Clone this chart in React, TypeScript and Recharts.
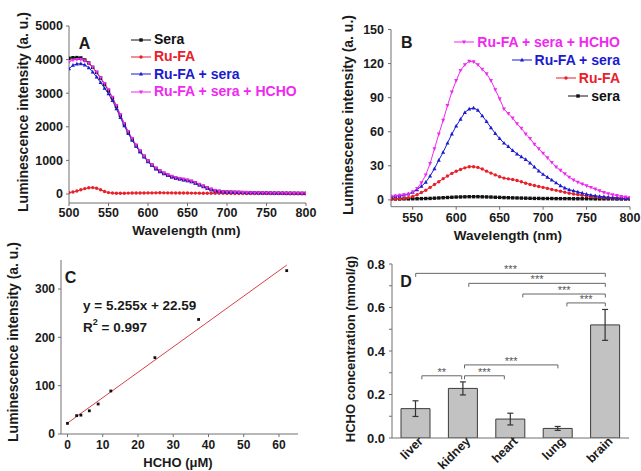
import React from 'react';
import {
  LineChart, Line, XAxis, YAxis, ComposedChart, Scatter, Bar, ErrorBar,
  ReferenceLine, ReferenceDot, Legend,
} from 'recharts';

const FONT = '"Liberation Sans", Arial, Helvetica, sans-serif';
const AXIS = '#707070';
const TXT = '#1a1a1a';
const BLACK = '#111111';
const RED = '#e8202a';
const BLUE = '#1a1ad0';
const MAGENTA = '#f028f0';

// ---------- Panel A ----------
const wavelengthsA = [
  500, 505, 510, 515, 520, 525, 530, 535, 540, 545,
  550, 555, 560, 565, 570, 575, 580, 585, 590, 595,
  600, 605, 610, 615, 620, 625, 630, 635, 640, 645,
  650, 655, 660, 665, 670, 675, 680, 685, 690, 695,
  700, 705, 710, 715, 720, 725, 730, 735, 740, 745,
  750, 755, 760, 765, 770, 775, 780, 785, 790, 795,
  800,
];
const seraA = [
  4040, 4056, 4060, 4050, 3990, 3900, 3770, 3620, 3450, 3270,
  3080, 2860, 2610, 2340, 2080, 1840, 1630, 1440, 1270, 1120,
  980, 860, 760, 680, 615, 560, 515, 480, 455, 430,
  405, 375, 330, 280, 230, 180, 135, 100, 78, 65,
  58, 54, 50, 47, 44, 41, 38, 36, 34, 32,
  30, 28, 26, 25, 24, 23, 22, 21, 20, 19,
  18,
];
const ruFaA = [
  40, 60, 90, 125, 160, 185, 190, 170, 125, 75,
  42, 28, 22, 22, 24, 26, 28, 29, 30, 31,
  32, 33, 34, 35, 34, 33, 32, 31, 30, 29,
  28, 27, 26, 25, 24, 23, 22, 21, 20, 19,
  18, 17, 16, 15, 15, 14, 14, 13, 13, 12,
  12, 11, 11, 10, 10, 9, 9, 8, 8, 7,
  7,
];
const ruFaSeraA = [
  3730, 3830, 3870, 3877, 3840, 3760, 3630, 3480, 3320, 3150,
  2980, 2780, 2540, 2280, 2030, 1800, 1600, 1420, 1250, 1100,
  960, 845, 745, 665, 600, 548, 505, 470, 445, 420,
  395, 362, 318, 268, 218, 170, 125, 92, 72, 60,
  54, 50, 47, 44, 41, 38, 36, 34, 32, 30,
  28, 26, 25, 24, 23, 22, 21, 20, 19, 18,
  17,
];
const ruFaSeraHchoA = [
  3930, 3990, 4005, 4000, 3965, 3890, 3770, 3620, 3460, 3290,
  3100, 2880, 2630, 2360, 2100, 1860, 1650, 1460, 1290, 1130,
  990, 870, 770, 690, 625, 570, 525, 490, 462, 437,
  410, 378, 334, 284, 234, 184, 138, 102, 80, 67,
  60, 56, 52, 49, 46, 43, 40, 38, 36, 34,
  32, 30, 28, 27, 26, 25, 24, 23, 22, 21,
  20,
];
const ticksAX = [500, 550, 600, 650, 700, 750, 800];
const ticksAY = [0, 1000, 2000, 3000, 4000, 5000];

// ---------- Panel B ----------
const wavelengthsB = [
  525, 530, 535, 540, 545, 550, 555, 560, 565, 570,
  575, 580, 585, 590, 595, 600, 605, 610, 615, 620,
  625, 630, 635, 640, 645, 650, 655, 660, 665, 670,
  675, 680, 685, 690, 695, 700, 705, 710, 715, 720,
  725, 730, 735, 740, 745, 750, 755, 760, 765, 770,
  775, 780, 785, 790, 795, 800,
];
const hchoB = [
  3, 3.5, 4, 4.5, 5, 7, 10, 15, 22, 32,
  45, 58, 70, 83, 95, 105, 114, 119, 122, 121.5,
  119, 115, 111, 105, 97, 89, 80, 76, 72, 67,
  63, 58, 54, 49, 45, 41, 37, 33, 29, 26,
  23, 20, 17.5, 15.5, 14, 12.5, 11, 9.5, 8, 6.5,
  5.5, 4.5, 3.8, 3, 2.5, 2,
];
const ruFaSeraB = [
  3, 3.3, 3.7, 4.3, 5.2, 6.8, 9, 12, 15.5, 21,
  27.5, 35, 42, 50, 58, 65, 71, 77, 80, 81,
  79, 74, 69, 63.5, 58.5, 54, 50, 47, 43.5, 40.5,
  38, 35.5, 32.5, 29, 25.5, 22.5, 20, 17.5, 15, 12.5,
  10.5, 9, 8, 7, 6, 5, 4.2, 3.6, 3.1, 2.7,
  2.3, 2, 1.7, 1.4, 1.2, 1,
];
const ruFaB = [
  0.5, 0.7, 1, 1.5, 2, 3, 4.5, 6.5, 8.5, 11,
  13.5, 16, 18.7, 21, 23.3, 25.2, 26.8, 28.2, 29.2, 29.2,
  28.6, 27.2, 25.3, 23.6, 22, 20.4, 19.2, 18.5, 17.9, 17,
  15.9, 14.7, 13.6, 12.6, 11.8, 11, 10.1, 9.2, 8.4, 7.6,
  6.7, 5.9, 5.2, 4.6, 4, 3.5, 3, 2.7, 2.4, 2.1,
  1.9, 1.7, 1.5, 1.3, 1.1, 1,
];
const seraB = [
  0.8, 0.8, 0.8, 0.9, 0.9, 1, 1, 1.1, 1.2, 1.3,
  1.5, 1.7, 1.9, 2.1, 2.3, 2.5, 2.6, 2.7, 2.8, 2.8,
  2.8, 2.7, 2.6, 2.5, 2.3, 2.2, 2, 1.9, 1.8, 1.7,
  1.6, 1.5, 1.4, 1.3, 1.3, 1.2, 1.2, 1.2, 1.1, 1.1,
  1.1, 1.1, 1, 1, 1, 1, 1, 0.9, 0.9, 0.9,
  0.9, 0.9, 0.8, 0.8, 0.8, 0.8,
];
const ticksBX = [550, 600, 650, 700, 750, 800];
const ticksBY = [0, 30, 60, 90, 120, 150];

// ---------- Panel C ----------
const hchoConcC = [0, 2.6, 3.8, 6.2, 8.7, 12.3, 24.8, 37.2, 62.2];
const intensityC = [22, 38, 39, 48, 62, 89, 158, 237, 338];
const fitXC = [0, 62.2];
const fitYC = [22.6, 349.4];
const ticksCX = [0, 10, 20, 30, 40, 50, 60];
const ticksCY = [0, 100, 200, 300];

// ---------- Panel D ----------
const organsD = ['liver', 'kidney', 'heart', 'lung', 'brain'];
const concD = [0.135, 0.228, 0.087, 0.044, 0.52];
const errD = [0.036, 0.03, 0.027, 0.009, 0.071];
const ticksDX = [0, 1, 2, 3, 4];
const ticksDY = [0, 0.1, 0.2, 0.3, 0.4, 0.5, 0.6, 0.7, 0.8];
const bracketFromD = [0, 1.12, 2.26, 3.19, 1.03, 0.13, 1.03];
const bracketToD = [4, 4, 4, 4, 3.0, 0.97, 1.87];
const bracketYD = [0.757, 0.711, 0.662, 0.621, 0.336, 0.286, 0.286];
const bracketMarkD = ['***', '***', '***', '***', '***', '**', '***'];

type Shape = 'square' | 'circle' | 'up' | 'down';

const seriesA: { key: string; name: string; color: string; shape: Shape }[] = [
  { key: 'sera', name: 'Sera', color: BLACK, shape: 'square' },
  { key: 'ruFa', name: 'Ru-FA', color: RED, shape: 'circle' },
  { key: 'ruFaSera', name: 'Ru-FA + sera', color: BLUE, shape: 'up' },
  { key: 'hcho', name: 'Ru-FA + sera + HCHO', color: MAGENTA, shape: 'down' },
];
const seriesB: { key: string; name: string; color: string; shape: Shape }[] = [
  { key: 'sera', name: 'sera', color: BLACK, shape: 'square' },
  { key: 'ruFa', name: 'Ru-FA', color: RED, shape: 'circle' },
  { key: 'ruFaSera', name: 'Ru-FA + sera', color: BLUE, shape: 'up' },
  { key: 'hcho', name: 'Ru-FA + sera + HCHO', color: MAGENTA, shape: 'down' },
];

function marker(shape: Shape, cx: number, cy: number, color: string, s: number, key?: any) {
  if (cx == null || cy == null || isNaN(cx) || isNaN(cy)) return <g key={key} />;
  const h = s / 2;
  switch (shape) {
    case 'square':
      return <rect key={key} x={cx - h * 0.85} y={cy - h * 0.85} width={s * 0.85} height={s * 0.85} fill={color} />;
    case 'circle':
      return <circle key={key} cx={cx} cy={cy} r={h * 0.85} fill={color} />;
    case 'up':
      return <polygon key={key} points={`${cx},${cy - h * 1.1} ${cx - h},${cy + h * 0.75} ${cx + h},${cy + h * 0.75}`} fill={color} />;
    default:
      return <polygon key={key} points={`${cx},${cy + h * 1.1} ${cx - h},${cy - h * 0.75} ${cx + h},${cy - h * 0.75}`} fill={color} />;
  }
}

const dotFn = (shape: Shape, color: string, s: number) => (p: any) =>
  marker(shape, p.cx, p.cy, color, s, `${shape}-${p.index}`);

const tickStyle = (fs: number) => ({ fontSize: fs, fontWeight: 700, fill: TXT, fontFamily: FONT });

function LegendBox({ items, right, rowH }: { items: typeof seriesA; right: boolean; rowH: number }) {
  return (
    <div style={{ fontFamily: FONT, fontWeight: 700, fontSize: 14 }}>
      {items.map((it) => (
        <div
          key={it.name}
          style={{
            display: 'flex', alignItems: 'center', justifyContent: right ? 'flex-end' : 'flex-start',
            height: rowH, lineHeight: `${rowH}px`, color: it.color, whiteSpace: 'nowrap',
          }}
        >
          <svg width={22} height={10} style={{ marginRight: 2, flex: 'none' }}>
            <line x1={1} y1={5} x2={21} y2={5} stroke={it.color} strokeWidth={1} />
            {marker(it.shape, 11, 5, it.color, 4)}
          </svg>
          <span>{it.name}</span>
        </div>
      ))}
    </div>
  );
}

const OrganTick = (p: any) => {
  const { x, y, payload } = p;
  const ax = x + 8;
  const ay = y + 4;
  return (
    <text x={ax} y={ay} transform={`rotate(-45 ${ax} ${ay})`} textAnchor="end"
      fontSize={12.5} fontWeight={700} fill={TXT} fontFamily={FONT}>
      {organsD[payload.value]}
    </text>
  );
};

export default function App() {
  const dataA = wavelengthsA.map((w, i) => ({
    w, sera: seraA[i], ruFa: ruFaA[i], ruFaSera: ruFaSeraA[i], hcho: ruFaSeraHchoA[i],
  }));
  const dataB = wavelengthsB.map((w, i) => ({
    w, sera: seraB[i], ruFa: ruFaB[i], ruFaSera: ruFaSeraB[i], hcho: hchoB[i],
  }));
  const pointsC = hchoConcC.map((x, i) => ({ x, y: intensityC[i] }));
  const fitC = fitXC.map((x, i) => ({ x, y: fitYC[i] }));
  const dataD = organsD.map((organ, i) => ({ pos: ticksDX[i], organ, conc: concD[i], err: errD[i] }));

  const drop = 0.016;

  return (
    <div style={{ position: 'absolute', left: 0, top: 0, width: 641, height: 471, background: '#fff', overflow: 'hidden' }}>
      {/* Panel A */}
      <div style={{ position: 'absolute', left: 0, top: 0 }}>
        <LineChart width={320} height={240} data={dataA} margin={{ top: 26, right: 14, bottom: 0, left: 0 }}>
          <XAxis dataKey="w" type="number" domain={[500, 800]} ticks={ticksAX} height={37}
            tickSize={3} tickMargin={2} stroke={AXIS} tick={tickStyle(12.5)} allowDataOverflow />
          <XAxis xAxisId="t" orientation="top" type="number" domain={[500, 800]} height={0}
            tick={false} tickLine={false} stroke={AXIS} />
          <YAxis domain={[-268, 5000]} ticks={ticksAY} width={69} tickSize={3} tickMargin={3}
            stroke={AXIS} tick={tickStyle(12.5)} allowDataOverflow />
          <YAxis yAxisId="r" orientation="right" width={0} domain={[0, 1]} tick={false} tickLine={false} stroke={AXIS} />
          {seriesA.map((s) => (
            <Line key={s.key} dataKey={s.key} name={s.name} stroke={s.color} strokeWidth={1}
              dot={dotFn(s.shape, s.color, 4)} activeDot={false} isAnimationActive={false} />
          ))}
          <Legend layout="vertical" align="center" verticalAlign="middle"
            wrapperStyle={{ left: 130, top: 31, width: 185, height: 72 }}
            content={() => <LegendBox items={seriesA} right={false} rowH={17.3} />} />
        </LineChart>
      </div>

      {/* Panel B */}
      <div style={{ position: 'absolute', left: 320, top: 0 }}>
        <LineChart width={321} height={245} data={dataB} margin={{ top: 29.5, right: 11, bottom: 0, left: 0 }}>
          <XAxis dataKey="w" type="number" domain={[525, 800]} ticks={ticksBX} height={38.3}
            tickSize={3} tickMargin={3} stroke={AXIS} tick={tickStyle(12.5)} allowDataOverflow />
          <XAxis xAxisId="t" orientation="top" type="number" domain={[525, 800]} height={0}
            tick={false} tickLine={false} stroke={AXIS} />
          <YAxis domain={[-6, 150]} ticks={ticksBY} width={71} tickSize={3} tickMargin={4}
            stroke={AXIS} tick={tickStyle(12.5)} allowDataOverflow />
          <YAxis yAxisId="r" orientation="right" width={0} domain={[0, 1]} tick={false} tickLine={false} stroke={AXIS} />
          {seriesB.map((s) => (
            <Line key={s.key} dataKey={s.key} name={s.name} stroke={s.color} strokeWidth={1}
              dot={dotFn(s.shape, s.color, 4)} activeDot={false} isAnimationActive={false} />
          ))}
          <Legend layout="vertical" align="center" verticalAlign="middle"
            wrapperStyle={{ left: 100, top: 33, width: 200, height: 72 }}
            content={() => <LegendBox items={[...seriesB].reverse()} right rowH={18} />} />
        </LineChart>
      </div>

      {/* Panel C */}
      <div style={{ position: 'absolute', left: 0, top: 240 }}>
        <ComposedChart width={320} height={231} margin={{ top: 20, right: 22, bottom: 0, left: 0 }}>
          <XAxis dataKey="x" type="number" domain={[-1.84, 65.4]} ticks={ticksCX} height={37}
            tickSize={3} tickMargin={3} stroke={AXIS} tick={tickStyle(12)} allowDataOverflow />
          <XAxis xAxisId="t" orientation="top" type="number" domain={[0, 1]} height={0}
            tick={false} tickLine={false} stroke={AXIS} />
          <YAxis type="number" domain={[0, 360]} ticks={ticksCY} width={61} tickSize={3} tickMargin={3}
            stroke={AXIS} tick={tickStyle(12)} allowDataOverflow />
          <YAxis yAxisId="r" orientation="right" width={0} domain={[0, 1]} tick={false} tickLine={false} stroke={AXIS} />
          <Line data={fitC} dataKey="y" stroke="#d8404a" strokeWidth={1} dot={false} activeDot={false} isAnimationActive={false} />
          <Scatter data={pointsC} dataKey="y" isAnimationActive={false}
            shape={(p: any) => <rect x={p.cx - 1.4} y={p.cy - 1.4} width={2.8} height={2.8} fill={BLACK} />} />
        </ComposedChart>
      </div>

      {/* Panel D */}
      <div style={{ position: 'absolute', left: 320, top: 240 }}>
        <ComposedChart width={321} height={231} data={dataD} margin={{ top: 24, right: 12, bottom: 0, left: 0 }}>
          <XAxis dataKey="pos" type="number" domain={[-0.5, 4.5]} ticks={ticksDX} height={33}
            tickLine={false} tickSize={0} tickMargin={0} interval={0}
            stroke={AXIS} tick={<OrganTick />} allowDataOverflow />
          <XAxis xAxisId="t" orientation="top" type="number" domain={[0, 1]} height={0}
            tick={false} tickLine={false} stroke={AXIS} />
          <YAxis domain={[0, 0.8]} ticks={ticksDY} width={72} tickSize={3} tickMargin={4}
            stroke={AXIS} tick={tickStyle(13)} allowDataOverflow
            tickFormatter={(v: number) => (Math.round(v * 10) % 2 === 0 ? v.toFixed(1) : '')} />
          <YAxis yAxisId="r" orientation="right" width={0} domain={[0, 1]} tick={false} tickLine={false} stroke={AXIS} />
          <Bar dataKey="conc" fill="#c2c2c2" stroke="#3c3c3c" strokeWidth={1} barSize={29} isAnimationActive={false}>
            <ErrorBar dataKey="err" width={3} stroke="#333" strokeWidth={1.2} direction="y" />
          </Bar>
          {bracketMarkD.flatMap((mark, i) => {
            const a = bracketFromD[i];
            const b = bracketToD[i];
            const y = bracketYD[i];
            return [
              <ReferenceLine key={`h${i}`} segment={[{ x: a, y }, { x: b, y }]} stroke="#666" strokeWidth={1} />,
              <ReferenceLine key={`l${i}`} segment={[{ x: a, y }, { x: a, y: y - drop }]} stroke="#666" strokeWidth={1} />,
              <ReferenceLine key={`r${i}`} segment={[{ x: b, y }, { x: b, y: y - drop }]} stroke="#666" strokeWidth={1} />,
              <ReferenceDot key={`d${i}`} x={(a + b) / 2} y={y} r={0} fill="none" stroke="none"
                label={{ value: mark, position: 'top', offset: 0, fontSize: 11, fill: '#555', fontFamily: FONT }} />,
            ];
          })}
        </ComposedChart>
      </div>

      {/* Titles and annotations */}
      <svg width={641} height={471} style={{ position: 'absolute', left: 0, top: 0, pointerEvents: 'none' }}
        fontFamily={FONT} fontWeight={700} fill={TXT}>
        <text x={23} y={112} transform="rotate(-90 23 112)" textAnchor="middle" dominantBaseline="central" fontSize={14}>
          Luminescence intensity (a. u.)
        </text>
        <text x={186.5} y={230} textAnchor="middle" dominantBaseline="central" fontSize={13.5}>Wavelength (nm)</text>
        <text x={348} y={115} transform="rotate(-90 348 115)" textAnchor="middle" dominantBaseline="central" fontSize={14}>
          Luminescence intensity (a. u.)
        </text>
        <text x={508} y={235} textAnchor="middle" dominantBaseline="central" fontSize={13.5}>Wavelength (nm)</text>
        <text x={13} y={342} transform="rotate(-90 13 342)" textAnchor="middle" dominantBaseline="central" fontSize={14}>
          Luminescence intensity (a. u.)
        </text>
        <text x={178} y={462} textAnchor="middle" dominantBaseline="central" fontSize={13}>HCHO (μM)</text>
        <text x={350} y={349} transform="rotate(-90 350 349)" textAnchor="middle" dominantBaseline="central" fontSize={13}>
          HCHO concentration (mmol/g)
        </text>
        <text x={84.5} y={43.3} textAnchor="middle" dominantBaseline="central" fontSize={16}>A</text>
        <text x={406.7} y={42} textAnchor="middle" dominantBaseline="central" fontSize={16}>B</text>
        <text x={70.5} y={277.5} textAnchor="middle" dominantBaseline="central" fontSize={16}>C</text>
        <text x={406} y={281} textAnchor="middle" dominantBaseline="central" fontSize={16}>D</text>
        <text x={83} y={305} dominantBaseline="central" fontSize={13.5}>y = 5.255x + 22.59</text>
        <text x={83} y={327} dominantBaseline="central" fontSize={13.5}>
          R<tspan fontSize={9} dy={-5}>2</tspan><tspan dy={5}> = 0.997</tspan>
        </text>
      </svg>
    </div>
  );
}
